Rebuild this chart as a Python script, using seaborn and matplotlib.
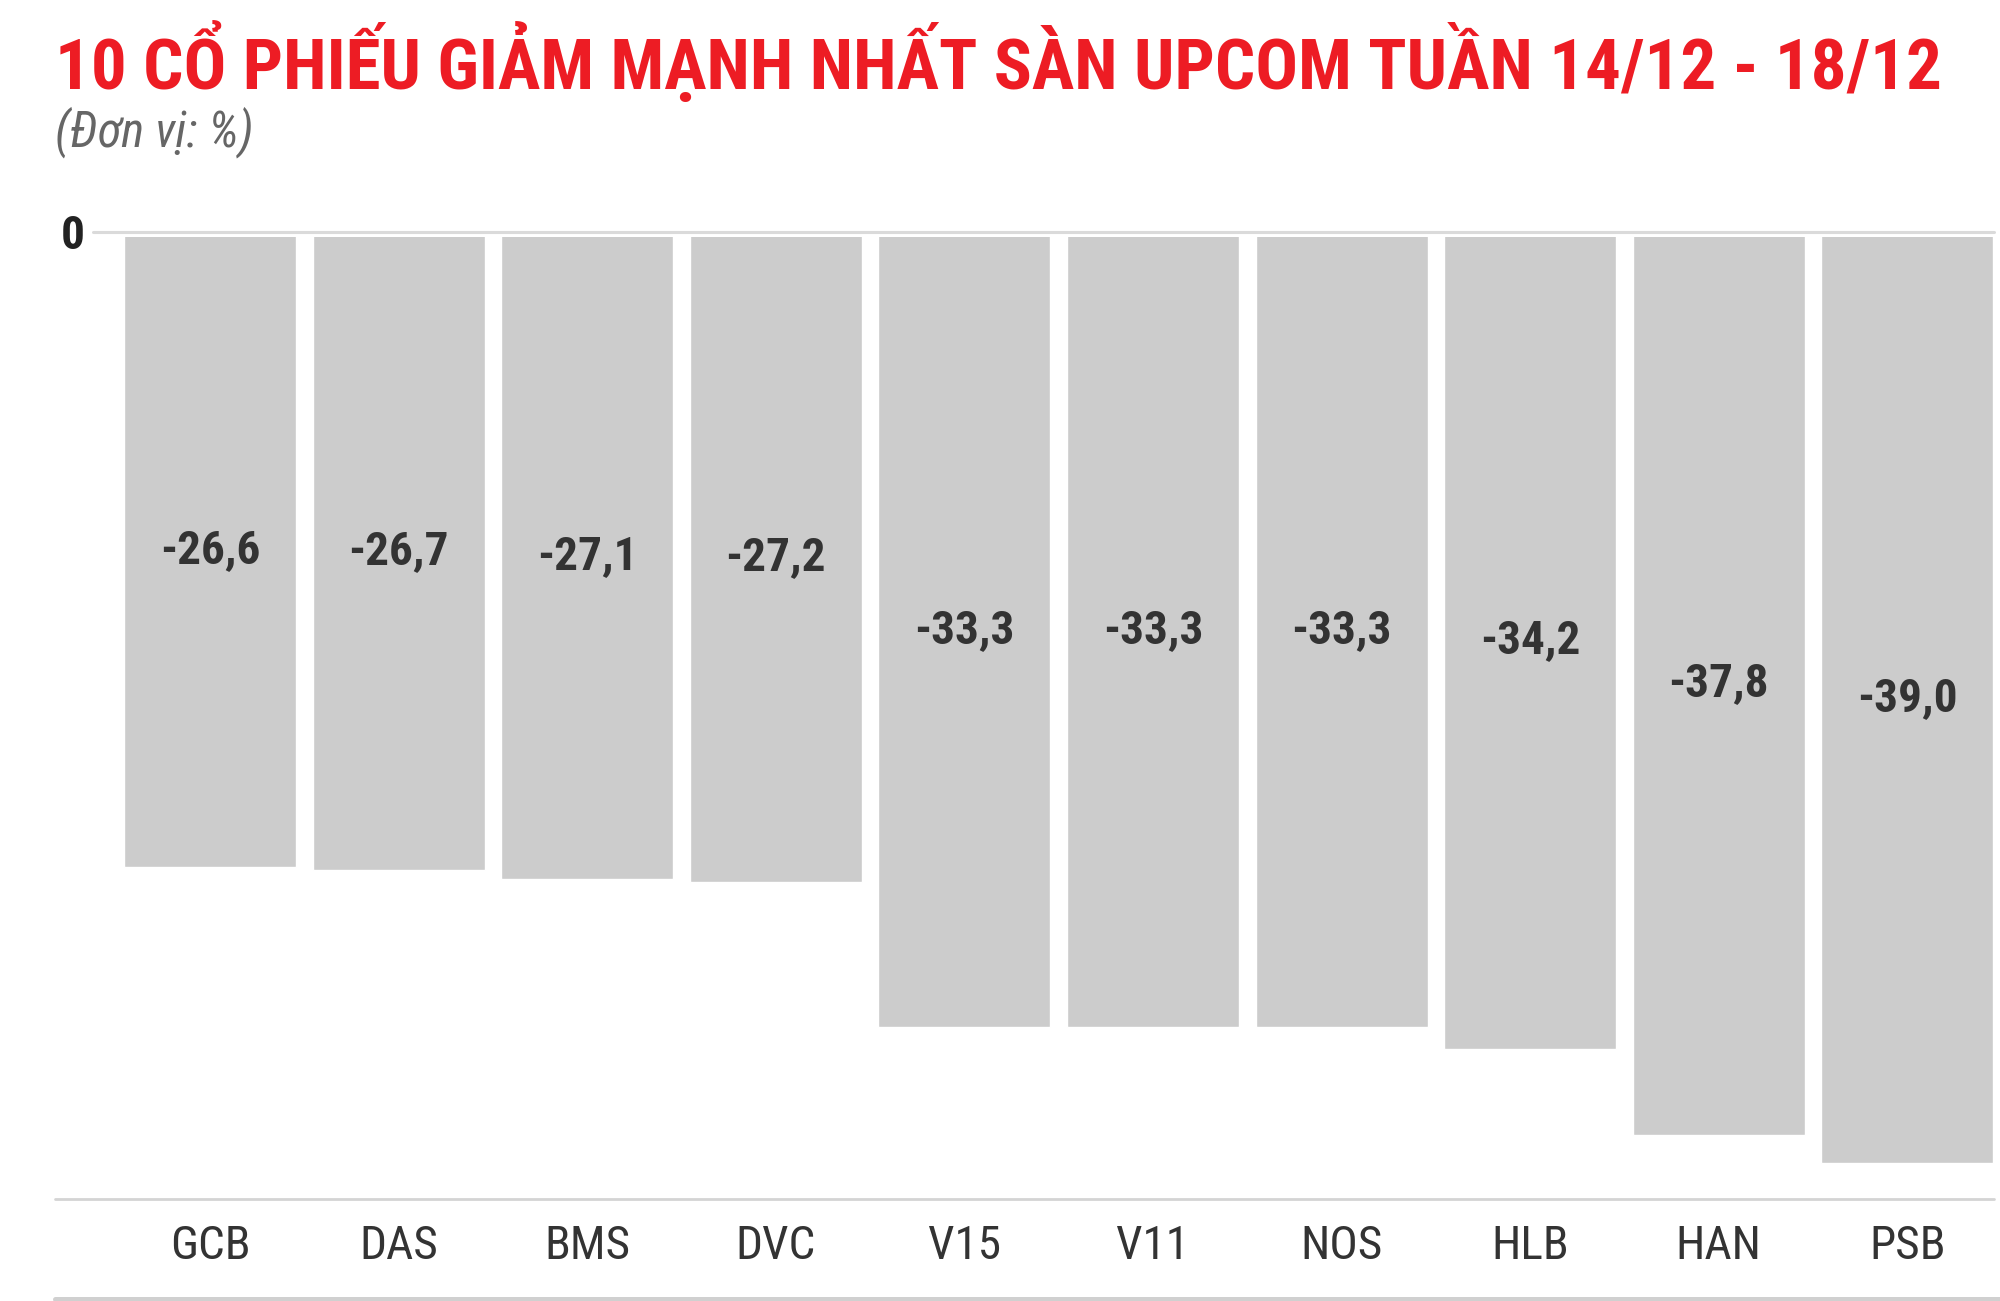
import matplotlib
matplotlib.use("Agg")
import matplotlib.pyplot as plt
from matplotlib.lines import Line2D
import seaborn as sns
import pandas as pd

# ---- data ----
ma_cp = ["GCB", "DAS", "BMS", "DVC", "V15", "V11", "NOS", "HLB", "HAN", "PSB"]
thay_doi = [-26.6, -26.7, -27.1, -27.2, -33.3, -33.3, -33.3, -34.2, -37.8, -39.0]
nhan_gia_tri = ["-26,6", "-26,7", "-27,1", "-27,2", "-33,3", "-33,3", "-33,3", "-34,2", "-37,8", "-39,0"]
tieu_de = "10 CỔ PHIẾU GIẢM MẠNH NHẤT SÀN UPCOM TUẦN 14/12 - 18/12"
don_vi = "(Đơn vị: %)"

sns.set_theme(style="white")
FONT = ["Roboto Condensed", "Barlow Condensed", "DejaVu Sans"]
plt.rcParams["font.family"] = FONT

W, H = 2000, 1301
fig = plt.figure(figsize=(W / 100, H / 100), dpi=100)
fig.patch.set_facecolor("white")

def fx(px):
    return px / W

def fy(py):
    return 1 - py / H

ax = fig.add_axes([fx(93), fy(1199), fx(1994) - fx(93), (1199 - 232) / H])
df = pd.DataFrame({"ma": ma_cp, "value": thay_doi})
sns.barplot(data=df, x="ma", y="value", color="#cccccc", saturation=1,
            width=0.912, ax=ax, zorder=2)
ax.set_xlim(-0.620, 9.459)
ax.set_ylim(-40.49, 0)
ax.set_facecolor("white")
for s in ax.spines.values():
    s.set_visible(False)
ax.set_xlabel("")
ax.set_ylabel("")
ax.set_yticks([])
ax.tick_params(axis="x", length=0, pad=34, labelsize=34, labelcolor="#333333")
for lab in ax.get_xticklabels():
    lab.set_verticalalignment("center")

# zero line with white gap below
ax.axhline(0, color="white", lw=7.2, zorder=3, clip_on=False)
ax.axhline(0, color="#dadada", lw=2.2, zorder=4, clip_on=False)

# value labels
for i, (v, t) in enumerate(zip(thay_doi, nhan_gia_tri)):
    ax.text(i, v * 0.5, t, ha="center", va="center", fontsize=34,
            fontweight="bold", color="#333333", zorder=5)

# zero label
fig.text(fx(73), fy(236), "0", ha="center", va="center", fontsize=34,
         fontweight="bold", color="#222222")

# bottom lines
fig.add_artist(Line2D([fx(55), fx(1994)], [fy(1199), fy(1199)], color="#d4d4d4", lw=2.0))
fig.add_artist(Line2D([fx(55), fx(2000)], [fy(1298.5), fy(1298.5)], color="#d0d0d0", lw=3.6))

# title and unit
fig.text(fx(55), fy(89), tieu_de, ha="left", va="baseline", fontsize=51,
         fontweight="bold", color="#ed1c24")
fig.text(fx(55), fy(147), don_vi, ha="left", va="baseline", fontsize=35,
         fontstyle="italic", fontweight="normal", color="#666666")

fig.savefig("out.png", dpi=100, facecolor="white")
